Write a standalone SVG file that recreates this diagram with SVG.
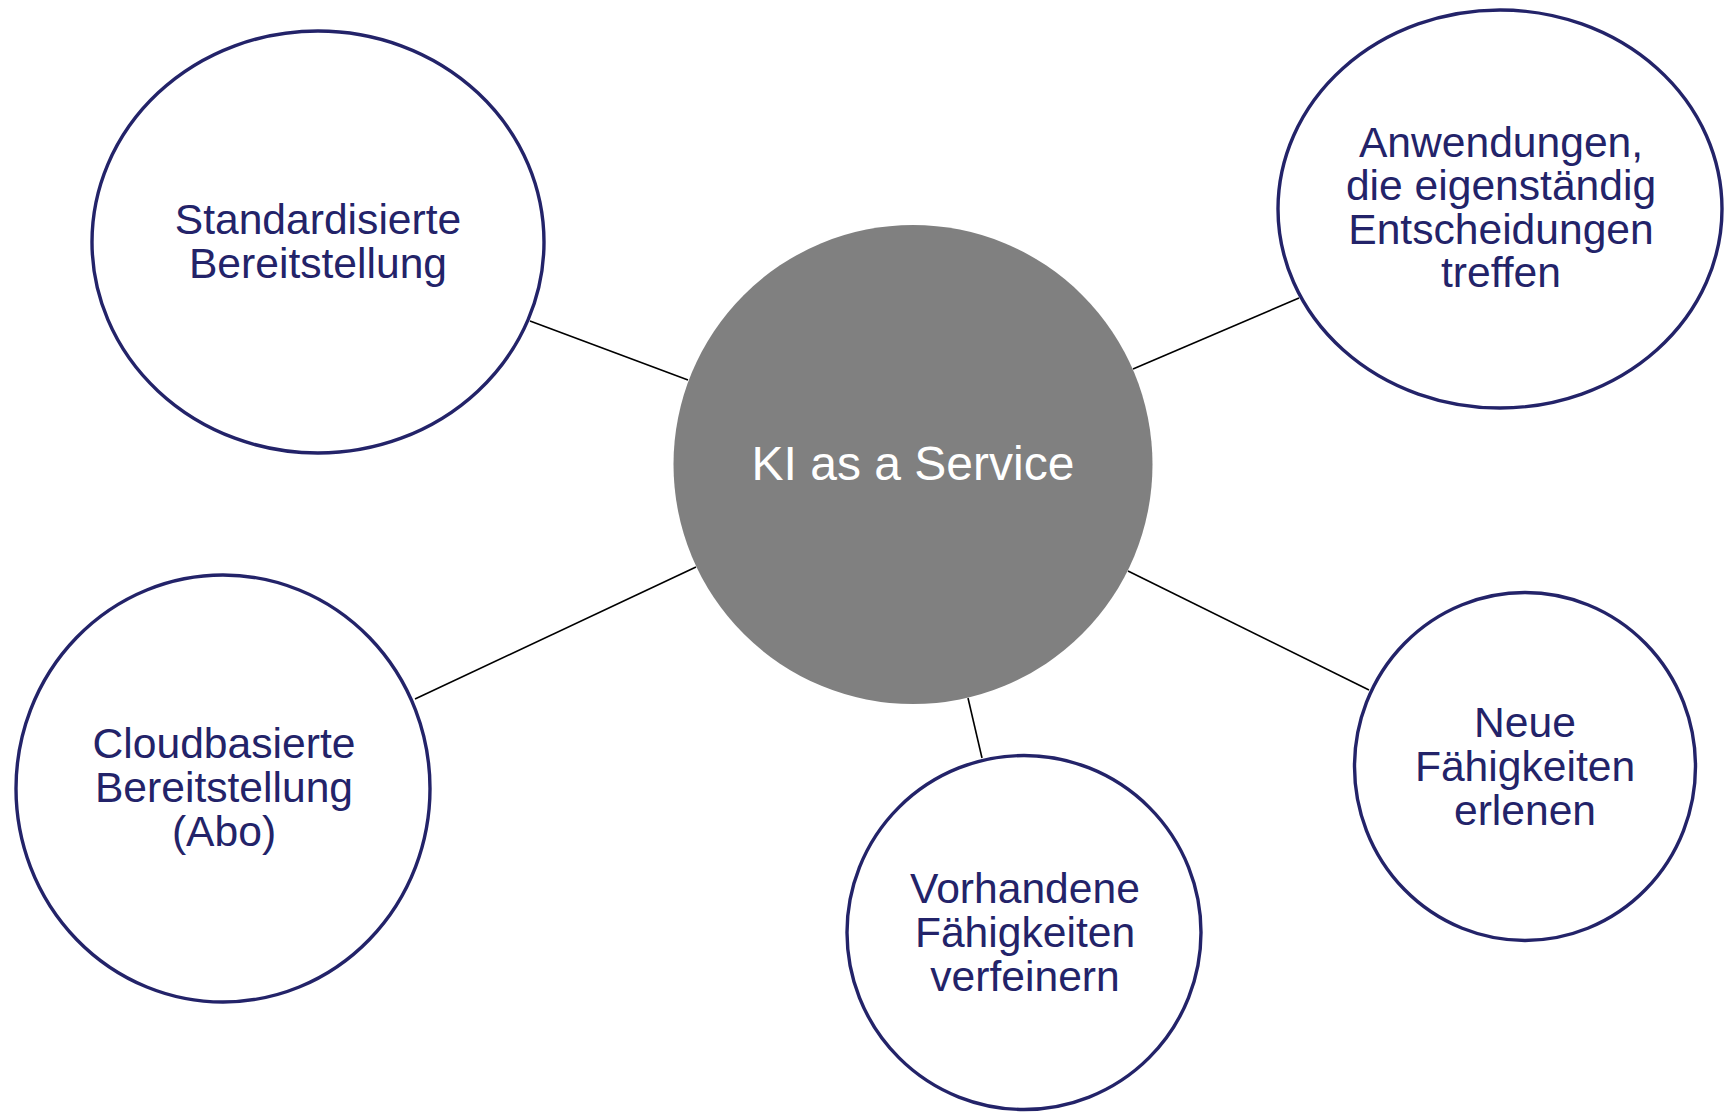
<svg xmlns="http://www.w3.org/2000/svg" width="1724" height="1114" viewBox="0 0 1724 1114">
<style>
.bubble{fill:#ffffff;stroke:#232369;stroke-width:3.4}
.hub{fill:#808080;stroke:none}
.lbl{font-family:"Liberation Sans",Arial,sans-serif;font-size:42.6px;fill:#232369;text-anchor:middle}
.hubl{font-family:"Liberation Sans",Arial,sans-serif;font-size:48px;fill:#ffffff;text-anchor:middle}
.conn{stroke:#000000;stroke-width:1.6;fill:none}
</style>
<rect x="0" y="0" width="1724" height="1114" fill="#ffffff"/>
<g id="connectors">
<line class="conn" x1="530" y1="321" x2="688" y2="380"/>
<line class="conn" x1="1133" y1="369" x2="1299" y2="298"/>
<line class="conn" x1="415" y1="699" x2="696" y2="567"/>
<line class="conn" x1="1128" y1="571" x2="1369" y2="690"/>
<line class="conn" x1="968" y1="698" x2="982" y2="758"/>
</g>
<g id="hub">
<circle class="hub" cx="913" cy="464.5" r="239.5"/>
<text class="hubl" x="913" y="480">KI as a Service</text>
</g>
<g id="node-standard">
<ellipse class="bubble" cx="318" cy="242" rx="226" ry="211"/>
<text class="lbl" x="318" y="234">Standardisierte</text>
<text class="lbl" x="318" y="278">Bereitstellung</text>
</g>
<g id="node-anwendungen">
<ellipse class="bubble" cx="1500" cy="209" rx="222" ry="199"/>
<text class="lbl" x="1501" y="157">Anwendungen,</text>
<text class="lbl" x="1501" y="200">die eigenständig</text>
<text class="lbl" x="1501" y="244">Entscheidungen</text>
<text class="lbl" x="1501" y="287">treffen</text>
</g>
<g id="node-cloud">
<ellipse class="bubble" cx="223" cy="788.5" rx="207" ry="213.5"/>
<text class="lbl" x="224" y="758">Cloudbasierte</text>
<text class="lbl" x="224" y="802">Bereitstellung</text>
<text class="lbl" x="224" y="846">(Abo)</text>
</g>
<g id="node-vorhandene">
<ellipse class="bubble" cx="1024" cy="932.5" rx="177" ry="177"/>
<text class="lbl" x="1025" y="903">Vorhandene</text>
<text class="lbl" x="1025" y="947">Fähigkeiten</text>
<text class="lbl" x="1025" y="991">verfeinern</text>
</g>
<g id="node-neue">
<ellipse class="bubble" cx="1525" cy="766.5" rx="170.5" ry="174"/>
<text class="lbl" x="1525" y="737">Neue</text>
<text class="lbl" x="1525" y="781">Fähigkeiten</text>
<text class="lbl" x="1525" y="825">erlenen</text>
</g>
</svg>
